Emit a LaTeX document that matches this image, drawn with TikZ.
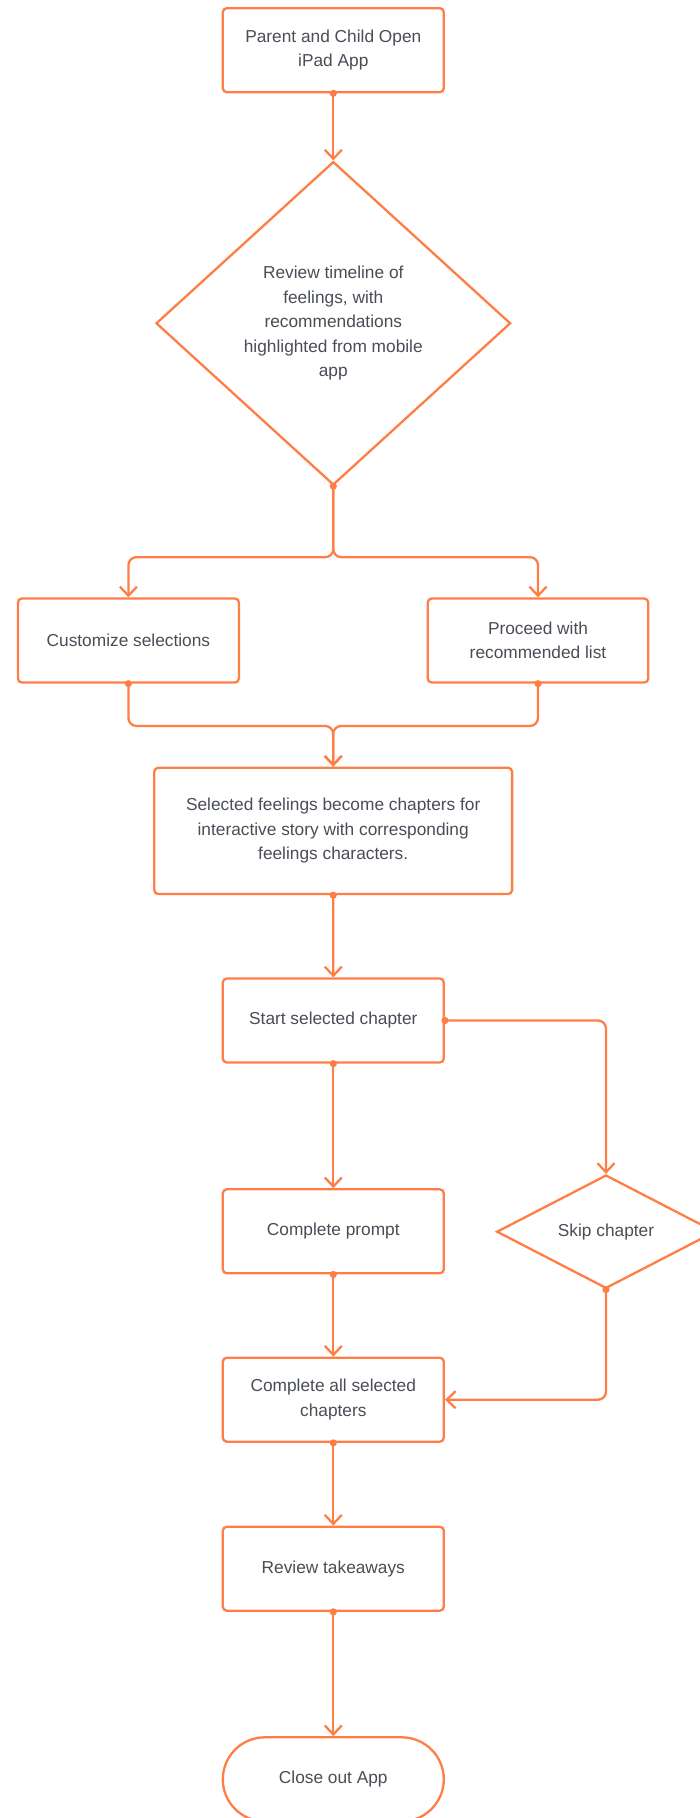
\documentclass[tikz,border=0pt]{standalone}
\usepackage{fontspec}
\setmainfont{Liberation Sans}
\usetikzlibrary{arrows.meta,shapes.geometric,shapes.misc}
\definecolor{flow}{RGB}{255,126,70}
\definecolor{ink}{RGB}{72,77,86}
\begin{document}
\begin{tikzpicture}[x=1pt,y=-1pt,
  every node/.style={font=\fontsize{17.3}{24.5}\selectfont, text=ink, align=center},
  box/.style={draw=flow, line width=2.3pt, rounded corners=4pt, minimum width=221pt,
    minimum height=84pt, inner sep=0pt},
  choice/.style={draw=flow, line width=2.3pt, shape=diamond, inner sep=0pt},
  terminal/.style={draw=flow, line width=2.3pt, shape=rounded rectangle,
    minimum width=221pt, minimum height=84pt, inner sep=0pt},
  conn/.style={draw=flow, line width=2.3pt, rounded corners=8pt, line join=round,
    -{Straight Barb[length=9pt,width=17pt]}},
  dotr/.style={fill=flow}
]
\useasboundingbox (0,0) rectangle (700,1818);
\clip (0,0) rectangle (700,1818);

% steps of the flow
\node[box] (open) at (333.3,50.2) {Parent and Child Open\\iPad App};
\node[choice, aspect=1.1, minimum width=354.6pt, minimum height=323.4pt] (review) at (333.3,323.3)
  {Review timeline of\\feelings, with\\recommendations\\highlighted from mobile\\app};
\node[box] (custom) at (128.4,640.5) {Customize selections};
\node[box, minimum width=220.5pt] (proceed) at (538,640.5) {Proceed with\\recommended list};
\node[box, minimum width=357.8pt, minimum height=126.3pt] (chapters) at (333.2,830.9)
  {Selected feelings become chapters for\\interactive story with corresponding\\feelings characters.};
\node[box] (startch) at (333.3,1020.5) {Start selected chapter};
\node[box] (prompt) at (333.3,1231.3) {Complete prompt};
\node[choice, aspect=2, minimum width=218.6pt, minimum height=113.4pt] (skip) at (606,1231.7) {Skip chapter};
\node[box] (allsel) at (333.3,1399.7) {Complete all selected\\chapters};
\node[box] (takeaways) at (333.3,1568.7) {Review takeaways};
\node[terminal] (close) at (333.3,1779.3) {Close out App};

% connectors
\draw[conn] (open.south) -- (review.north);
\draw[conn] (review.south) -- ++(0,71) -| (custom.north);
\draw[conn] (review.south) -- ++(0,71) -| (proceed.north);
\draw[conn] (custom.south) -- ++(0,42.3) -| (chapters.north);
\draw[conn] (proceed.south) -- ++(0,42.3) -| (chapters.north);
\draw[conn] (chapters.south) -- (startch.north);
\draw[conn] (startch.south) -- (prompt.north);
\draw[conn] (startch.east) -| (skip.north);
\draw[conn] (prompt.south) -- (allsel.north);
\draw[conn] (skip.south) |- (allsel.east);
\draw[conn] (allsel.south) -- (takeaways.north);
\draw[conn] (takeaways.south) -- (close.north);

% source dots
\foreach \a in {open.south, review.south, custom.south, proceed.south, chapters.south,
  startch.south, startch.east, prompt.south, skip.south, allsel.south, takeaways.south}
  \fill[dotr] (\a) circle (3.6pt);
\end{tikzpicture}
\end{document}
